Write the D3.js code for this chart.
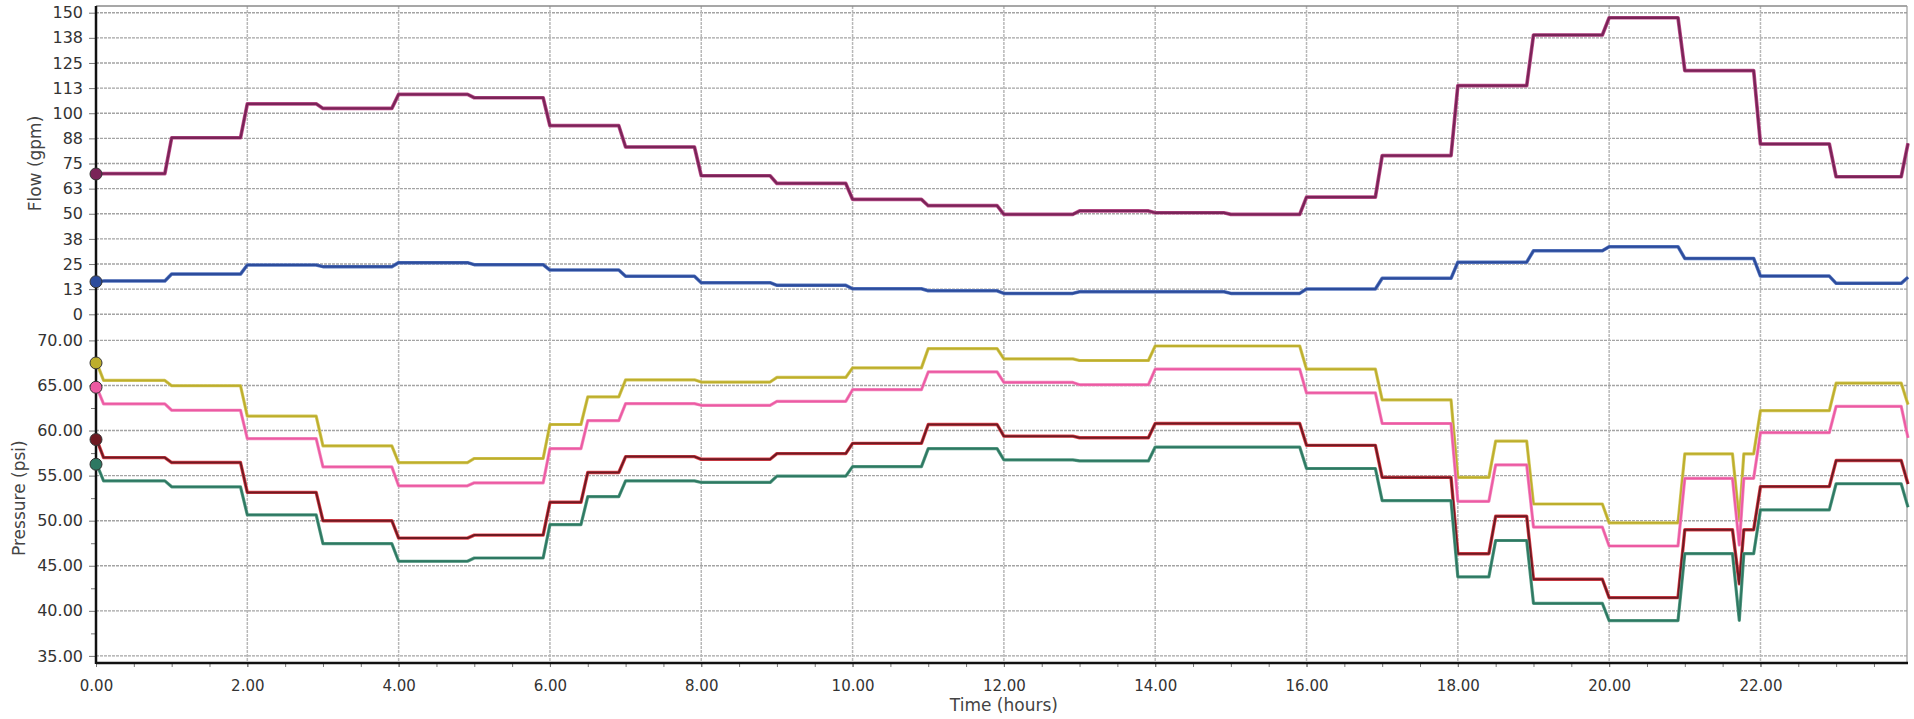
<!DOCTYPE html>
<html>
<head>
<meta charset="utf-8">
<script src="https://cdn.jsdelivr.net/npm/d3@7"></script>
<style>
  body { margin: 0; background: #fff; }
  svg { display: block; font-family: "DejaVu Sans", sans-serif; }
</style>
</head>
<body>
<svg id="chart" width="1914" height="719"></svg>
<script>
// ---- data ----
// hours at which a new flow value is reached
const flowTimes = [0.1, 1, 2, 3, 4, 5, 6, 7, 8, 9, 10, 11, 12, 13, 14, 15, 16, 17, 18, 19, 20, 21, 22, 23, 23.95];
const flowMainStart = 69.8;
const flowMain = [70.0, 87.8, 104.7, 102.4, 109.4, 107.7, 93.8, 83.2, 68.9, 65.1, 57.2, 54.0,
  49.7, 51.4, 50.5, 49.7, 58.3, 78.9, 113.7, 138.9, 147.5, 121.2, 84.7, 68.4, 85.0];
const flowBranchStart = 16.2;
const flowBranch = [16.6, 20.0, 24.5, 23.7, 25.7, 24.7, 22.0, 18.9, 15.7, 14.4, 12.7, 11.7,
  10.4, 11.2, 11.2, 10.4, 12.6, 17.9, 25.9, 31.6, 33.6, 27.8, 19.0, 15.4, 18.4];

// hours at which a new pressure value is reached
const pressureTimes = [0.1, 1, 2, 3, 4, 5, 6, 6.5, 7, 8, 9, 10, 11, 12, 13, 14, 16, 17,
  18, 18.5, 19, 20, 21, 21.72, 21.78, 22, 23, 23.95];
const pressureOliveStart = 67.5;
const pressureOlive = [65.56, 64.97, 61.6, 58.3, 56.45, 56.9, 60.67, 63.73, 65.63, 65.38, 65.89, 66.95,
  69.09, 67.95, 67.77, 69.38, 66.81, 63.4, 54.8, 58.83, 51.85, 49.76, 57.42, 50.0, 57.42, 62.2, 65.27, 62.9];
const pressurePinkStart = 64.8;
const pressurePink = [62.95, 62.25, 59.1, 55.97, 53.87, 54.2, 58.0, 61.1, 62.99, 62.8, 63.24, 64.53,
  66.5, 65.34, 65.08, 66.81, 64.17, 60.78, 52.15, 56.19, 49.28, 47.19, 54.7, 47.3, 54.7, 59.76, 62.69, 59.2];
const pressureRedStart = 59.0;
const pressureRed = [57.0, 56.45, 53.14, 50.0, 48.07, 48.4, 52.04, 55.35, 57.11, 56.81, 57.44, 58.58,
  60.67, 59.38, 59.2, 60.78, 58.36, 54.8, 46.34, 50.5, 43.5, 41.46, 49.0, 43.0, 49.0, 53.78, 56.67, 54.06];
const pressureTealStart = 56.26;
const pressureTeal = [54.42, 53.76, 50.64, 47.45, 45.5, 45.86, 49.57, 52.66, 54.42, 54.24, 54.94, 56.0,
  58.0, 56.74, 56.63, 58.17, 55.79, 52.22, 43.77, 47.8, 40.83, 38.92, 46.34, 38.95, 46.34, 51.2, 54.1, 51.5];

const flowTicks = [0, 12.5, 25, 37.5, 50, 62.5, 75, 87.5, 100, 112.5, 125, 137.5, 150];
const pressureTicks = [35, 40, 45, 50, 55, 60, 65, 70];
const timeTicks = [0, 2, 4, 6, 8, 10, 12, 14, 16, 18, 20, 22];

// ---- layout ----
const svg = d3.select("#chart");
const plotLeft = 96, plotRight = 1908, plotTop = 6, axisY = 663;

const x = d3.scaleLinear().domain([0, 23.95]).range([plotLeft, plotRight]);
const yFlow = d3.scaleLinear().domain([0, 150]).range([314.3, 12.7]);
const yPres = d3.scaleLinear().domain([35, 70]).range([655.9, 340.4]);

const series = [
  { times: flowTimes, start: flowMainStart, values: flowMain, y: yFlow, color: "#7a2458", halo: "#c0508e", width: 2.3 },
  { times: flowTimes, start: flowBranchStart, values: flowBranch, y: yFlow, color: "#2c4c9c", halo: "#5a78c0", width: 2.1 },
  { times: pressureTimes, start: pressureOliveStart, values: pressureOlive, y: yPres, color: "#bdae2c", halo: "#d4c860", width: 1.8 },
  { times: pressureTimes, start: pressurePinkStart, values: pressurePink, y: yPres, color: "#ec5aa2", halo: "#f28cc0", width: 1.8 },
  { times: pressureTimes, start: pressureRedStart, values: pressureRed, y: yPres, color: "#6e1a22", halo: "#e2444e", width: 2.0 },
  { times: pressureTimes, start: pressureTealStart, values: pressureTeal, y: yPres, color: "#2d7862", halo: "#5a9c86", width: 1.8 }
];

// gridlines
const grid = svg.append("g");
grid.selectAll("line.hf")
  .data(flowTicks)
  .enter()
  .append("line")
  .attr("x1", plotLeft).attr("x2", plotRight)
  .attr("y1", (d) => yFlow(d)).attr("y2", (d) => yFlow(d))
  .attr("stroke", "#a4a4a4").attr("stroke-width", 1.4).attr("stroke-dasharray", "3,1");
grid.selectAll("line.hp")
  .data(pressureTicks)
  .enter()
  .append("line")
  .attr("x1", plotLeft).attr("x2", plotRight)
  .attr("y1", (d) => yPres(d)).attr("y2", (d) => yPres(d))
  .attr("stroke", "#a4a4a4").attr("stroke-width", 1.4).attr("stroke-dasharray", "3,1");
grid.selectAll("line.v")
  .data(timeTicks.slice(1))
  .enter()
  .append("line")
  .attr("x1", (d) => x(d)).attr("x2", (d) => x(d))
  .attr("y1", plotTop).attr("y2", axisY)
  .attr("stroke", "#b8b8b8").attr("stroke-width", 1.5).attr("stroke-dasharray", "3,1");

// frame top / right
svg.append("line").attr("x1", plotLeft).attr("x2", plotRight - 1).attr("y1", plotTop).attr("y2", plotTop)
  .attr("stroke", "#8a8a8a").attr("stroke-width", 1.5);
svg.append("line").attr("x1", plotRight - 1).attr("x2", plotRight - 1).attr("y1", plotTop).attr("y2", axisY)
  .attr("stroke", "#9a9a9a").attr("stroke-width", 1.2);

// series as ramped steps
function stepPoints(times, start, values) {
  const pts = [[0, start]];
  let prevT = 0;
  times.forEach((t, i) => {
    const ramp = Math.min(0.09, t - prevT);
    pts.push([t - ramp, pts[pts.length - 1][1]]);
    pts.push([t, values[i]]);
    prevT = t;
  });
  return pts;
}

const lines = svg.append("g").attr("fill", "none").attr("stroke-linejoin", "round");
series.forEach((s) => {
  const line = d3.line().x((d) => x(d[0])).y((d) => s.y(d[1]));
  const pts = stepPoints(s.times, s.start, s.values);
  lines.append("path").attr("d", line(pts)).attr("stroke", s.halo).attr("stroke-width", s.width + 1.4);
  lines.append("path").attr("d", line(pts)).attr("stroke", s.color).attr("stroke-width", s.width);
});

// axes
const fmt2 = d3.format(".2f");
const styleAxis = (g) => {
  g.select(".domain").remove();
  g.selectAll(".tick line").attr("stroke", "#777");
  g.selectAll(".tick text").attr("fill", "#333");
};

svg.append("g")
  .attr("transform", `translate(${plotLeft - 1},0)`)
  .call(d3.axisLeft(yFlow).tickValues(flowTicks).tickFormat((d) => Math.round(d)).tickSize(6).tickPadding(6))
  .call(styleAxis)
  .selectAll("text").style("font-size", "16px").style("font-family", "DejaVu Sans");

svg.append("g")
  .attr("transform", `translate(${plotLeft - 1},0)`)
  .call(d3.axisLeft(yPres).tickValues(pressureTicks).tickFormat(fmt2).tickSize(6).tickPadding(6))
  .call(styleAxis)
  .selectAll("text").style("font-size", "16px").style("font-family", "DejaVu Sans");

svg.append("g")
  .attr("transform", `translate(${plotLeft - 1},0)`)
  .call(d3.axisLeft(yPres).tickValues(d3.range(37.5, 70, 5)).tickFormat("").tickSize(4))
  .call(styleAxis);

svg.append("g")
  .attr("transform", `translate(0,${axisY})`)
  .call(d3.axisBottom(x).tickValues(d3.range(0.5, 23.95, 0.5)).tickFormat("").tickSize(4))
  .call(styleAxis);

svg.append("g")
  .attr("transform", `translate(0,${axisY})`)
  .call(d3.axisBottom(x).tickValues(timeTicks).tickFormat(fmt2).tickSize(4).tickPadding(13))
  .call(styleAxis)
  .selectAll("text").style("font-size", "15px").style("font-family", "DejaVu Sans");

// main axis lines
svg.append("line").attr("x1", plotLeft).attr("x2", plotLeft).attr("y1", plotTop).attr("y2", axisY + 1)
  .attr("stroke", "#111").attr("stroke-width", 2.5);
svg.append("line").attr("x1", plotLeft).attr("x2", plotRight).attr("y1", axisY).attr("y2", axisY)
  .attr("stroke", "#111").attr("stroke-width", 2.5);

// start markers
svg.append("g")
  .selectAll("circle")
  .data(series)
  .enter()
  .append("circle")
  .attr("cx", x(0))
  .attr("cy", (d) => d.y(d.start))
  .attr("r", 6)
  .attr("fill", (d) => d.color)
  .attr("stroke", "#333")
  .attr("stroke-width", 1);

// axis titles
svg.append("text")
  .attr("transform", `translate(35,${(yFlow(0) + yFlow(150)) / 2}) rotate(-90)`)
  .attr("text-anchor", "middle").attr("dominant-baseline", "central")
  .attr("fill", "#444").style("font-size", "17px")
  .text("Flow (gpm)");
svg.append("text")
  .attr("transform", `translate(18.5,${(yPres(35) + yPres(70)) / 2}) rotate(-90)`)
  .attr("text-anchor", "middle").attr("dominant-baseline", "central")
  .attr("fill", "#444").style("font-size", "17px")
  .text("Pressure (psi)");
svg.append("text")
  .attr("x", x(12)).attr("y", 711)
  .attr("text-anchor", "middle")
  .attr("fill", "#444").style("font-size", "17px")
  .text("Time (hours)");
</script>
</body>
</html>
